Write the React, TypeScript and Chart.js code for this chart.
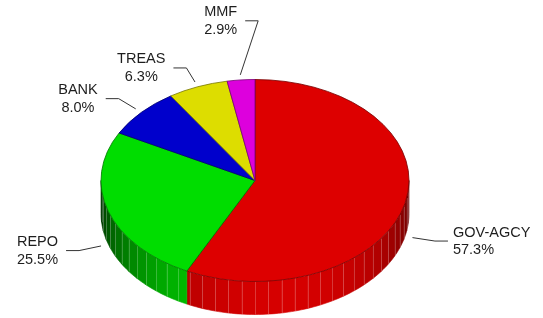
import React, { useEffect, useRef } from 'react';
import { Chart, registerables } from 'chart.js';

Chart.register(...registerables);

// ---- data ----
const categories = ['GOV-AGCY', 'REPO', 'BANK', 'TREAS', 'MMF'];
const shares = [57.3, 25.5, 8.0, 6.3, 2.9];
const percentLabels = ['57.3%', '25.5%', '8.0%', '6.3%', '2.9%'];
const sliceColors = ['#dd0000', '#00dd00', '#0000cc', '#dddd00', '#dd00dd'];

// ---- layout / style ----
const W = 543;
const H = 318;
const RX = 154; // horizontal radius of the pie (px)
const TILT = 101 / 154; // vertical squash of the top face
const DEPTH = 33; // thickness of the side wall
const FONT = '14.5px "Liberation Sans", Arial, sans-serif';

function rgb(hex: string): [number, number, number] {
  const h = hex.replace('#', '');
  return [parseInt(h.slice(0, 2), 16), parseInt(h.slice(2, 4), 16), parseInt(h.slice(4, 6), 16)];
}
function shade(hex: string, f: number): string {
  const [r, g, b] = rgb(hex);
  const c = (v: number) => Math.max(0, Math.min(255, Math.round(v * f)));
  return `rgb(${c(r)},${c(g)},${c(b)})`;
}

const borderColors = sliceColors.map((c) => shade(c, 0.55));

const pie3d = {
  id: 'pie3d',
  beforeDatasetsDraw(chart: any) {
    const ctx: CanvasRenderingContext2D = chart.ctx;
    const meta = chart.getDatasetMeta(0);
    const step = Math.PI / 36;
    const lines: Array<[number, number]> = [];
    ctx.save();
    meta.data.forEach((arc: any, i: number) => {
      const { startAngle, endAngle, x, y, outerRadius } = arc.getProps(
        ['startAngle', 'endAngle', 'x', 'y', 'outerRadius'],
        true
      );
      const R = outerRadius;
      const ry = R * TILT;
      for (let k = -1; k <= 1; k++) {
        const lo = Math.max(startAngle, 2 * Math.PI * k);
        const hi = Math.min(endAngle, 2 * Math.PI * k + Math.PI);
        if (hi <= lo) continue;
        let a = lo;
        while (a < hi - 1e-9) {
          const next = Math.min(hi, (Math.floor((a + 1e-9) / step) + 1) * step);
          const mid = (a + next) / 2;
          const f = Math.max(0.25, Math.min(1, 0.32 + 0.65 * Math.sin(mid + (10 * Math.PI) / 180)));
          const col = shade(sliceColors[i], f);
          ctx.beginPath();
          const n = 4;
          for (let j = 0; j <= n; j++) {
            const t = a + ((next - a) * j) / n;
            const px = x + R * Math.cos(t);
            const py = y + ry * Math.sin(t);
            if (j === 0) ctx.moveTo(px, py);
            else ctx.lineTo(px, py);
          }
          for (let j = n; j >= 0; j--) {
            const t = a + ((next - a) * j) / n;
            ctx.lineTo(x + R * Math.cos(t), y + ry * Math.sin(t) + DEPTH);
          }
          ctx.closePath();
          ctx.fillStyle = col;
          ctx.fill();
          ctx.strokeStyle = col;
          ctx.lineWidth = 0.6;
          ctx.stroke();
          if (a > lo + 1e-6) lines.push([x + R * Math.cos(a), y + ry * Math.sin(a)]);
          a = next;
        }
      }
    });
    // facet stripes
    ctx.strokeStyle = 'rgba(255,255,255,0.22)';
    ctx.lineWidth = 1;
    lines.forEach(([px, py]) => {
      ctx.beginPath();
      ctx.moveTo(Math.round(px) + 0.5, py);
      ctx.lineTo(Math.round(px) + 0.5, py + DEPTH);
      ctx.stroke();
    });
    ctx.restore();
  },
  beforeDatasetDraw(chart: any) {
    const ctx: CanvasRenderingContext2D = chart.ctx;
    const arc = chart.getDatasetMeta(0).data[0];
    ctx.save();
    ctx.translate(arc.x, arc.y);
    ctx.scale(1, TILT);
    ctx.translate(-arc.x, -arc.y);
  },
  afterDatasetDraw(chart: any) {
    chart.ctx.restore();
  },
  afterDatasetsDraw(chart: any, _args: any, opts: any) {
    const ctx: CanvasRenderingContext2D = chart.ctx;
    const meta = chart.getDatasetMeta(0);
    const overrides = (opts && opts.elbowShift) || {};
    ctx.save();
    ctx.font = FONT;
    ctx.textBaseline = 'middle';
    meta.data.forEach((arc: any, i: number) => {
      const { startAngle, endAngle, x, y, outerRadius } = arc.getProps(
        ['startAngle', 'endAngle', 'x', 'y', 'outerRadius'],
        true
      );
      const mid = (startAngle + endAngle) / 2;
      const c = Math.cos(mid);
      const s = Math.sin(mid);
      const drop = s > 0 ? DEPTH : 0;
      const sx = x + outerRadius * 1.05 * c;
      const sy = y + outerRadius * TILT * 1.05 * s + drop;
      let ex = x + outerRadius * 1.2 * c;
      let ey = y + outerRadius * TILT * 1.2 * s + drop;
      if (overrides[i]) {
        ex += overrides[i][0];
        ey += overrides[i][1];
      }
      const dir = c >= 0 ? 1 : -1;
      const hx = ex + dir * 13;
      ctx.strokeStyle = '#333';
      ctx.lineWidth = 1;
      ctx.beginPath();
      ctx.moveTo(sx, sy);
      ctx.lineTo(ex, ey);
      ctx.lineTo(hx, ey);
      ctx.stroke();

      const l1 = categories[i];
      const l2 = percentLabels[i];
      const w1 = ctx.measureText(l1).width;
      const w2 = ctx.measureText(l2).width;
      const bw = Math.max(w1, w2);
      ctx.fillStyle = '#1e1e1e';
      if (dir > 0) {
        ctx.textAlign = 'left';
        ctx.fillText(l1, hx + 5, ey - 8.5);
        ctx.fillText(l2, hx + 5, ey + 9);
      } else {
        const cxText = hx - 8 - bw / 2;
        ctx.textAlign = 'center';
        ctx.fillText(l1, cxText, ey - 8.5);
        ctx.fillText(l2, cxText, ey + 9);
      }
    });
    ctx.restore();
  },
};

export default function App() {
  const ref = useRef<HTMLCanvasElement | null>(null);
  useEffect(() => {
    if (!ref.current) return;
    const chart = new Chart(ref.current, {
      type: 'pie',
      data: {
        labels: categories,
        datasets: [
          {
            data: shares,
            backgroundColor: sliceColors,
            borderColor: borderColors,
            borderWidth: 1,
            clip: false as any,
          },
        ],
      },
      options: {
        responsive: false,
        animation: false,
        events: [],
        radius: RX,
        layout: { padding: { left: 0, right: 33, top: 43, bottom: 0 } },
        plugins: {
          legend: { display: false },
          tooltip: { enabled: false },
          pie3d: { elbowShift: { 4: [20, -39] } },
        } as any,
      } as any,
      plugins: [pie3d as any],
    });
    return () => chart.destroy();
  }, []);
  return (
    <div style={{ position: 'absolute', left: 0, top: 0, width: W, height: H, background: '#fff' }}>
      <canvas ref={ref} width={W} height={H} style={{ display: 'block' }} />
    </div>
  );
}
